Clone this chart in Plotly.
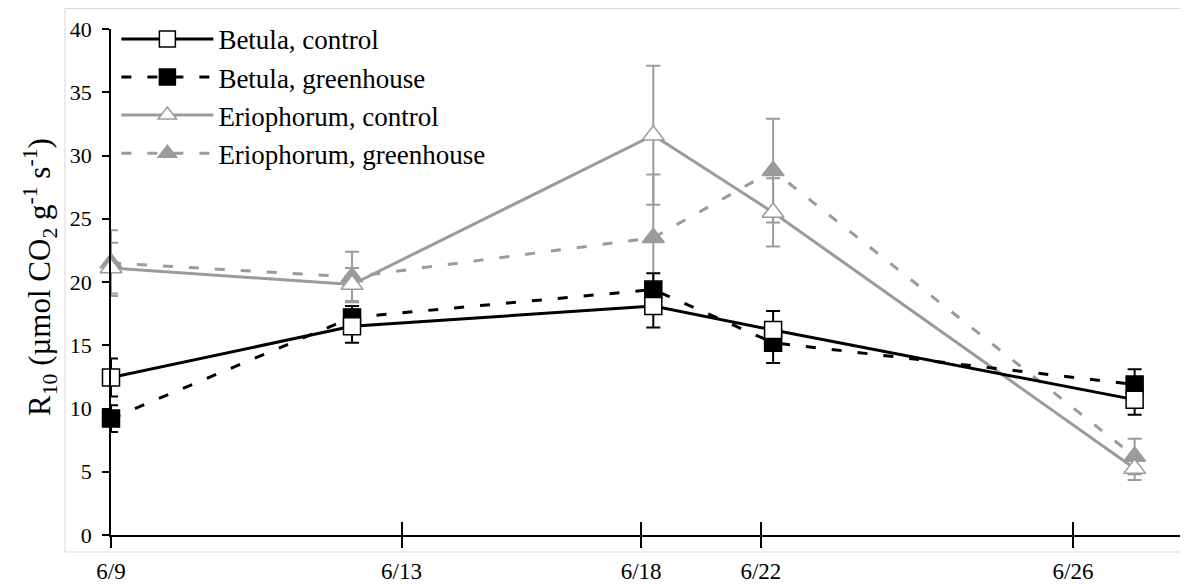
import plotly.graph_objects as go

# ---- data ----
tick_pos = [0, 4.05, 7.39, 9.06, 13.41]
tick_text = ["6/9", "6/13", "6/18", "6/22", "6/26"]
sample_pos = [0, 3.36, 7.56, 9.23, 14.27]

betula_control = [12.45, 16.5, 18.1, 16.2, 10.7]
betula_control_err = [1.5, 1.3, 1.7, 1.5, 1.2]
betula_greenhouse = [9.2, 17.2, 19.4, 15.2, 11.9]
betula_greenhouse_err = [1.05, 0.9, 1.3, 1.6, 1.2]
erio_control = [21.1, 19.8, 31.6, 25.5, 5.25]
erio_control_err = [2.0, 1.3, 5.5, 2.7, 0.9]
erio_greenhouse = [21.5, 20.4, 23.5, 28.8, 6.2]
erio_greenhouse_err = [2.6, 2.0, 5.0, 4.1, 1.4]

FONT = "Liberation Serif"
BLACK = "#000000"
GREY = "#9b9b9b"
DASH = "10px,16px"

fig = go.Figure()

def add(name, y, err, color, dash, symbol, fill, size):
    fig.add_trace(go.Scatter(
        x=sample_pos, y=y, name=name, mode="lines+markers",
        line=dict(color=color, width=3, dash=dash),
        marker=dict(symbol=symbol, size=size, color=fill,
                    line=dict(color=color, width=1.5)),
        error_y=dict(type="data", array=err, visible=True,
                     color=color, thickness=2, width=7),
        cliponaxis=False,
    ))

# drawn back to front; legend reversed
add("Eriophorum, greenhouse", erio_greenhouse, erio_greenhouse_err, GREY, DASH, "triangle-up", GREY, 19)
add("Eriophorum, control", erio_control, erio_control_err, GREY, "solid", "triangle-up", "white", 19)
add("Betula, greenhouse", betula_greenhouse, betula_greenhouse_err, BLACK, DASH, "square", BLACK, 17)
add("Betula, control", betula_control, betula_control_err, BLACK, "solid", "square", "white", 17)

# the page body adds an 8px offset; size the figure to fill the 1188x584 window
OFF = 8
W, H = 1188 - OFF, 584 - OFF
L, R, T, B = 103, 1, 21, 49
pw, ph = W - L - R, H - T - B

def px(xp):
    return (xp - OFF - L) / pw

def py(yp):
    return (H - B - (yp - OFF)) / ph

fig.update_layout(
    width=W, height=H,
    margin=dict(l=L, r=R, t=T, b=B, autoexpand=False),
    paper_bgcolor="white", plot_bgcolor="white",
    font=dict(family=FONT, color="black"),
    showlegend=True,
    legend=dict(x=0.005, y=1.028, xanchor="left", yanchor="top",
                traceorder="reversed", bgcolor="rgba(0,0,0,0)",
                font=dict(family=FONT, size=27, color="black"),
                tracegroupgap=0, itemwidth=92),
    xaxis=dict(range=[0, 15.0], tickvals=tick_pos, ticktext=tick_text,
               showline=True, linecolor="black", linewidth=2,
               ticks="outside", ticklen=11, tickwidth=1.5, tickcolor="black",
               showgrid=False, zeroline=False, automargin=False,
               tickfont=dict(family=FONT, size=23, color="black"),
               ticklabelstandoff=3),
    xaxis2=dict(range=[0, 15.0], tickvals=tick_pos, overlaying="x",
                side="bottom", anchor="y", matches="x",
                showline=False, ticks="inside", ticklen=13, tickwidth=1.5,
                tickcolor="black", showticklabels=False, showgrid=False,
                zeroline=False, automargin=False),
    yaxis=dict(range=[0, 40], dtick=5, tick0=0,
               showline=True, linecolor="black", linewidth=1.5,
               ticks="outside", ticklen=7, tickwidth=1.5, tickcolor="black",
               showgrid=False, zeroline=False, automargin=False,
               ticklabelstandoff=6,
               tickfont=dict(family=FONT, size=22, color="black")),
    shapes=[dict(type="rect", xref="paper", yref="paper",
                 x0=px(65), x1=px(1186), y0=py(552), y1=py(8.5),
                 line=dict(color="#d9d9d9", width=1), layer="below")],
    annotations=[dict(
        text="R<sub>10</sub> (µmol CO<sub>2</sub> g<sup>-1</sup> s<sup>-1</sup>)",
        xref="paper", yref="paper", x=px(40), y=0.51,
        xanchor="center", yanchor="middle", textangle=-90, showarrow=False,
        font=dict(family=FONT, size=31, color="black"))],
)
# invisible trace to activate the tick-only overlay axis
fig.add_trace(go.Scatter(x=[tick_pos[0]], y=[0], xaxis="x2", mode="markers",
                         marker=dict(opacity=0), showlegend=False,
                         hoverinfo="skip"))

fig.write_html("out.html")
